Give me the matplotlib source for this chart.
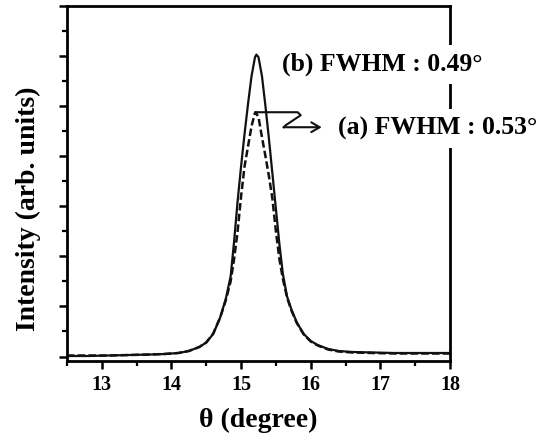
import matplotlib
matplotlib.use("Agg")
import matplotlib.pyplot as plt
from matplotlib.ticker import MultipleLocator, NullFormatter
from matplotlib.lines import Line2D

plt.rcParams["font.family"] = ["Liberation Serif", "DejaVu Serif"]
plt.rcParams["font.weight"] = "bold"

# diffraction scans around the (002) reflection
theta_b = [12.5, 12.8, 13.1, 13.4, 13.7, 13.9, 14.1, 14.25, 14.4, 14.5, 14.6, 14.7,
           14.78, 14.85, 14.9, 14.95, 15.0, 15.05, 15.1, 15.15, 15.2, 15.22, 15.25,
           15.3, 15.35, 15.4, 15.45, 15.5, 15.55, 15.6, 15.66, 15.72, 15.8, 15.9,
           16.0, 16.1, 16.25, 16.4, 16.6, 16.9, 17.2, 17.6, 18.0]
intensity_b = [0.01, 0.01, 0.02, 0.03, 0.04, 0.05, 0.07, 0.11, 0.19, 0.28, 0.45, 0.78,
               1.15, 1.6, 2.3, 3.1, 3.8, 4.45, 5.05, 5.6, 5.98, 6.03, 5.98,
               5.6, 5.0, 4.35, 3.65, 2.95, 2.25, 1.65, 1.2, 0.95, 0.68, 0.45,
               0.31, 0.23, 0.15, 0.11, 0.09, 0.08, 0.07, 0.07, 0.07]

theta_a = [12.5, 12.8, 13.1, 13.4, 13.7, 13.9, 14.1, 14.25, 14.4, 14.5, 14.6, 14.7,
           14.78, 14.85, 14.9, 14.95, 15.0, 15.05, 15.1, 15.15, 15.2, 15.21, 15.25,
           15.3, 15.35, 15.4, 15.45, 15.5, 15.55, 15.6, 15.66, 15.72, 15.8, 15.9,
           16.0, 16.1, 16.25, 16.4, 16.6, 16.9, 17.2, 17.6, 18.0]
intensity_a = [0.02, 0.02, 0.02, 0.03, 0.04, 0.05, 0.07, 0.11, 0.19, 0.28, 0.46, 0.78,
               1.12, 1.5, 1.95, 2.5, 3.2, 3.8, 4.2, 4.6, 4.87, 4.88, 4.78,
               4.38, 4.0, 3.6, 3.15, 2.5, 1.95, 1.55, 1.18, 0.93, 0.67, 0.44,
               0.30, 0.22, 0.14, 0.10, 0.08, 0.07, 0.06, 0.06, 0.06]

label_b = "(b) FWHM : 0.49°"
label_a = "(a) FWHM : 0.53°"
x_ticks = [13, 14, 15, 16, 17, 18]

fig = plt.figure(figsize=(5.41, 4.36), dpi=100)
ax = fig.add_axes([0.1238, 0.172, 0.708, 0.814])

ax.plot(theta_b, intensity_b, color="#111111", lw=1.6, solid_capstyle="round")
ax.plot(theta_a, intensity_a, color="#111111", lw=1.8, linestyle=(0, (3.0, 1.3)))

ax.set_xlim(12.5, 18.0)
ax.set_ylim(-0.09, 7.0)
ax.set_xticks(x_ticks)
ax.xaxis.set_minor_locator(MultipleLocator(0.5))
ax.yaxis.set_major_locator(MultipleLocator(1.0))
ax.yaxis.set_minor_locator(MultipleLocator(0.5))
ax.yaxis.set_major_formatter(NullFormatter())

for s in ax.spines.values():
    s.set_linewidth(2.0)
ax.tick_params(which="major", direction="out", length=6, width=1.8,
               labelsize=14.5, pad=4, top=False, right=False)
ax.tick_params(which="minor", direction="out", length=3.5, width=1.6,
               top=False, right=False)
for lbl in ax.get_xticklabels():
    lbl.set_fontweight("bold")

ax.set_xlabel("θ (degree)", fontsize=20, fontweight="bold", labelpad=9)
ax.set_ylabel("Intensity (arb. units)", fontsize=20, fontweight="bold")
ax.yaxis.set_label_coords(-0.068, 0.43)

# FWHM labels sit on white boxes that break the right frame line
box = dict(boxstyle="square,pad=0.3", fc="white", ec="none")
ax.text(15.59, 5.83, label_b, fontsize=18.5, fontweight="bold", ha="left",
        va="center", bbox=box, zorder=5, clip_on=False)
ax.text(16.39, 4.55, label_a, fontsize=18.5, fontweight="bold", ha="left",
        va="center", bbox=box, zorder=5, clip_on=False)

# hooked pointer from the top of curve (a) to its label
peak_i = intensity_a.index(max(intensity_a))
px, py = ax.transLimits.transform((theta_a[peak_i], intensity_a[peak_i]))
w_px, h_px = 0.708 * 541, 0.814 * 436
hook = [(0, 0), (42, 0), (45, -3), (30, -13), (28, -15)]
hx = [px + dx / w_px for dx, dy in hook]
hy = [py + dy / h_px for dx, dy in hook]
ax.add_line(Line2D(hx, hy, transform=ax.transAxes, color="#111111", lw=1.5,
                   solid_joinstyle="round", zorder=4))
ax.annotate("", xy=(px + 66 / w_px, py - 15 / h_px), xycoords="axes fraction",
            xytext=(px + 28 / w_px, py - 15 / h_px), textcoords="axes fraction",
            arrowprops=dict(arrowstyle="->,head_length=0.6,head_width=0.35",
                            lw=1.5, color="#111111", shrinkA=0, shrinkB=0))

fig.savefig("out.png", dpi=100)
